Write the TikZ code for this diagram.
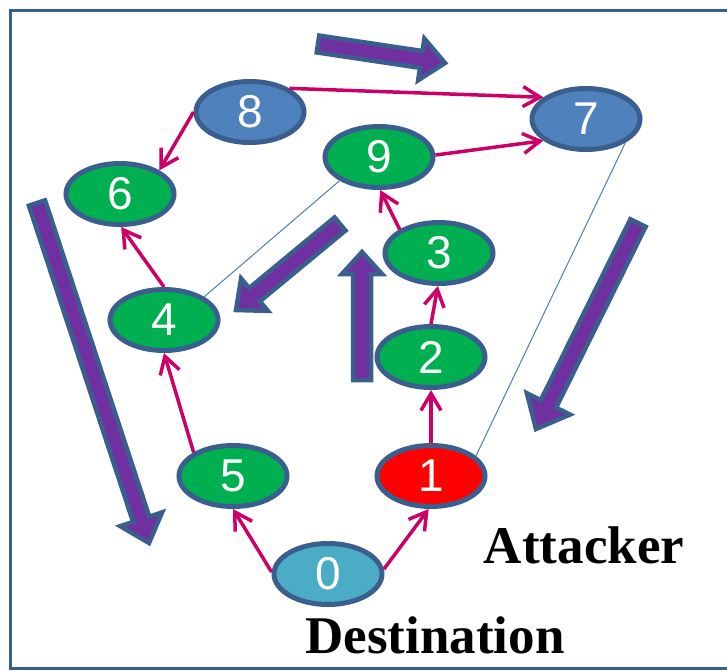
\documentclass[tikz,border=0pt]{standalone}
\usepackage{fontspec}
\setmainfont{Liberation Serif}
\newfontfamily\arialfont{Liberation Sans}
\usetikzlibrary{shapes.geometric,arrows.meta,calc}
\definecolor{bordblue}{HTML}{3A5F8E}
\definecolor{nodegreen}{HTML}{00B050}
\definecolor{nodeblue}{HTML}{4F81BD}
\definecolor{nodecyan}{HTML}{4BACC6}
\definecolor{nodered}{HTML}{FF0000}
\definecolor{edgemag}{HTML}{CC0066}
\definecolor{thinblue}{HTML}{4A7EBB}
\definecolor{arrpurple}{HTML}{7030A0}
\tikzset{
  vtx/.style={ellipse, draw=bordblue, line width=5pt, minimum width=108pt, minimum height=61pt,
    inner sep=0pt, text=white, font=\arialfont\fontsize{46}{46}\selectfont},
  gvtx/.style={vtx, fill=nodegreen},
  bvtx/.style={vtx, fill=nodeblue},
  cvtx/.style={vtx, fill=nodecyan},
  rvtx/.style={vtx, fill=nodered},
  edge/.style={draw=edgemag, line width=3.5pt, -{Straight Barb[length=17pt,width=20pt,line width=3.5pt]}},
  thinedge/.style={draw=thinblue, line width=1pt},
  blockarr/.style={draw=bordblue, fill=arrpurple, line width=4.5pt, miter limit=20},
  lbl/.style={font=\bfseries\fontsize{53}{53}\selectfont, anchor=base, inner sep=0pt}
}
% tail, tip, half shaft, half head, head length
\newcommand{\blockarrow}[5]{%
  \coordinate (BAs) at #1; \coordinate (BAt) at #2;
  \coordinate (BAh) at ($(BAt)!#5!(BAs)$);
  \path[blockarr] ($(BAs)!#3!90:(BAt)$) -- ($(BAh)!#3!90:(BAt)$) -- ($(BAh)!#4!90:(BAt)$)
    -- (BAt) -- ($(BAh)!#4!-90:(BAt)$) -- ($(BAh)!#3!-90:(BAt)$) -- ($(BAs)!#3!-90:(BAt)$) -- cycle;
}
\begin{document}
\begin{tikzpicture}[x=1pt,y=-1pt]
\useasboundingbox (0,0) rectangle (727,670);
\clip (0,0) rectangle (727,670);
\draw[bordblue, line width=3pt] (10,10) rectangle (780,668);

% block arrows
\blockarrow{(318,44)}{(445,63)}{8.5pt}{21pt}{24pt}
\blockarrow{(37,203)}{(149,543)}{8.5pt}{22pt}{25pt}
\blockarrow{(340,224)}{(236,310)}{8.5pt}{21pt}{24pt}
\blockarrow{(638,223)}{(536,429)}{8.5pt}{24pt}{28pt}
\blockarrow{(362,380)}{(362,252)}{9pt}{20pt}{22pt}

% nodes
\node[bvtx] (n8) at (250,112) {8};
\node[bvtx] (n7) at (586,119) {7};
\node[gvtx] (n9) at (379,157) {9};
\node[gvtx] (n6) at (120,194) {6};
\node[gvtx] (n3) at (439,253) {3};
\node[gvtx] (n4) at (164,320) {4};
\node[gvtx] (n2) at (431,357) {2};
\node[gvtx] (n5) at (233,476) {5};
\node[rvtx] (n1) at (431,476) {1};
\node[cvtx] (n0) at (328,574) {0};

% thin lines
\draw[thinedge] (n9.211) -- (n4.30);
\draw[thinedge] (n1.24) -- (n7.-31);

% edges
\draw[edge] (n8.31) -- (n7.153);
\draw[edge] (n8.180) -- (n6.31);
\draw[edge] (n9.2) -- (n7.207);
\draw[edge] (n3.149) -- (n9.272);
\draw[edge] (n2.90) -- (n3.268);
\draw[edge] (n1.90) -- (n2.270);
\draw[edge] (n4.90) -- (n6.272);
\draw[edge] (n5.149) -- (n4.270);
\draw[edge] (n0.178) -- (n5.270);
\draw[edge] (n0.5) -- (n1.266);

% labels
\node[lbl] (att) at (584,563) {Attacker};
\node[lbl] (dst) at (435,653) {Destination};
\end{tikzpicture}
\end{document}
